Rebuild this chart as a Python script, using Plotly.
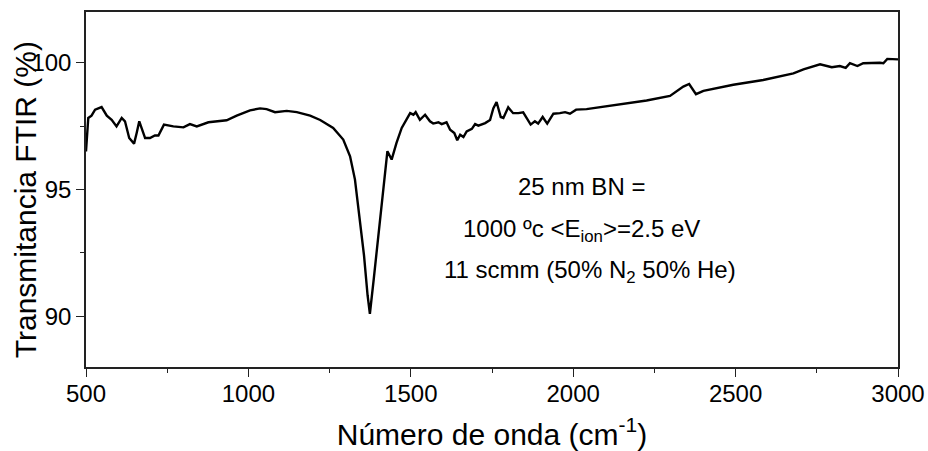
import plotly.graph_objects as go

wavenumber = [500, 507, 517, 528, 548, 564, 579, 594, 610, 620, 633, 648, 656, 664, 671,
              682, 697, 712, 723, 740, 769, 800, 820, 841, 877, 933, 964, 1005, 1036, 1056,
              1082, 1118, 1149, 1190, 1221, 1261, 1292, 1313, 1328, 1341, 1356, 1367, 1374,
              1386, 1405, 1421, 1428, 1441, 1456, 1472, 1485, 1498, 1508, 1515, 1528, 1544,
              1559, 1569, 1585, 1595, 1610, 1621, 1634, 1643, 1652, 1662, 1672, 1688, 1698,
              1708, 1729, 1744, 1754, 1764, 1777, 1785, 1800, 1815, 1831, 1846, 1869, 1882,
              1892, 1906, 1920, 1939, 1959, 1975, 1990, 2009, 2041, 2093, 2154, 2226, 2298,
              2339, 2357, 2368, 2378, 2401, 2493, 2585, 2637, 2678, 2709, 2760, 2796, 2821,
              2839, 2852, 2875, 2893, 2944, 2955, 2967, 3000]
transmittance = [96.5, 97.82, 97.91, 98.15, 98.25, 97.91, 97.75, 97.49, 97.82, 97.69, 97.03,
                 96.81, 97.23, 97.69, 97.43, 97.03, 97.03, 97.13, 97.13, 97.56, 97.49, 97.45,
                 97.58, 97.49, 97.65, 97.73, 97.91, 98.12, 98.2, 98.17, 98.05, 98.1, 98.05,
                 97.91, 97.74, 97.43, 96.97, 96.31, 95.4, 94.09, 92.39, 90.82, 90.1, 91.48,
                 93.83, 95.66, 96.51, 96.18, 96.84, 97.43, 97.75, 98.01, 97.95, 98.05, 97.75,
                 97.95, 97.69, 97.6, 97.65, 97.58, 97.65, 97.36, 97.23, 96.94, 97.16, 97.07,
                 97.29, 97.39, 97.58, 97.52, 97.62, 97.74, 98.2, 98.45, 97.86, 97.82, 98.24,
                 98.01, 98.01, 98.04, 97.56, 97.69, 97.6, 97.86, 97.6, 97.99, 98.01, 98.05,
                 97.99, 98.15, 98.17, 98.27, 98.38, 98.51, 98.69, 99.06, 99.16, 98.93, 98.76,
                 98.89, 99.13, 99.32, 99.45, 99.58, 99.74, 99.94, 99.82, 99.87, 99.8, 99.98,
                 99.87, 99.98, 100.0, 99.98, 100.15, 100.13]

x_ticks = [500, 1000, 1500, 2000, 2500, 3000]
y_ticks = [90, 95, 100]
x_range = [500, 3000]
y_range = [88, 102]

x_title = "Número de onda (cm<sup>-1</sup>)"
y_title = "Transmitancia FTIR (%)"

annot_lines = ["25 nm BN =",
               "1000 ºc &lt;E<sub>ion</sub>&gt;=2.5 eV",
               "11 scmm (50% N<sub>2</sub> 50% He)"]
annot_x = [2027, 2027, 2052]
annot_y = [95.1, 93.4, 91.75]

FONT = "Arial, Liberation Sans, sans-serif"

fig = go.Figure()
fig.add_trace(go.Scatter(x=wavenumber, y=transmittance, mode="lines",
                         line=dict(color="black", width=2.4), showlegend=False,
                         hoverinfo="skip"))

axis_common = dict(showgrid=False, zeroline=False, linecolor="#222", linewidth=1.5,
                   tickcolor="#222", tickwidth=1.2, automargin=False)

fig.update_layout(
    width=928, height=451,
    margin=dict(l=86, r=30, t=12, b=84),
    paper_bgcolor="white", plot_bgcolor="white",
    font=dict(family=FONT, color="black"),
    xaxis=dict(range=x_range, tickvals=x_ticks, ticks="outside", ticklen=8,
               tickfont=dict(size=24, family=FONT), ticklabelstandoff=-4,
               minor=dict(dtick=250, ticks="outside", ticklen=4, tickcolor="#222"),
               title=dict(text=x_title, font=dict(size=30, family=FONT), standoff=24),
               mirror=True, showline=True, **axis_common),
    yaxis=dict(range=y_range, tickvals=y_ticks, ticks="outside", ticklen=8,
               tickfont=dict(size=24, family=FONT),
               minor=dict(dtick=2.5, tick0=90, ticks="outside", ticklen=4, tickcolor="#222"),
               mirror=True, showline=True, **axis_common),
    xaxis2=dict(range=x_range, overlaying="x", anchor="y", side="top",
                tickvals=[750, 1000, 1250, 1500, 1750, 2000, 2250, 2500, 2750],
                ticks="inside", ticklen=6, showticklabels=False, showline=False,
                showgrid=False, zeroline=False, tickcolor="#222", automargin=False),
    yaxis2=dict(range=y_range, overlaying="y", anchor="x", side="right",
                tickvals=[90, 92.5, 95, 97.5, 100],
                ticks="inside", ticklen=6, showticklabels=False, showline=False,
                showgrid=False, zeroline=False, tickcolor="#222", automargin=False),
)

# y-axis title placed as rotated text so it sits where the reference has it
fig.add_annotation(x=-0.075, y=0.47, xref="paper", yref="paper", text=y_title,
                   textangle=-90, showarrow=False,
                   font=dict(size=30, family=FONT, color="black"),
                   xanchor="center", yanchor="middle")

for txt, ax, ay in zip(annot_lines, annot_x, annot_y):
    fig.add_annotation(x=ax, y=ay, xref="x", yref="y", text=txt, showarrow=False,
                       font=dict(size=24, family=FONT, color="black"),
                       xanchor="center", yanchor="middle")

fig.write_html("out.html")
